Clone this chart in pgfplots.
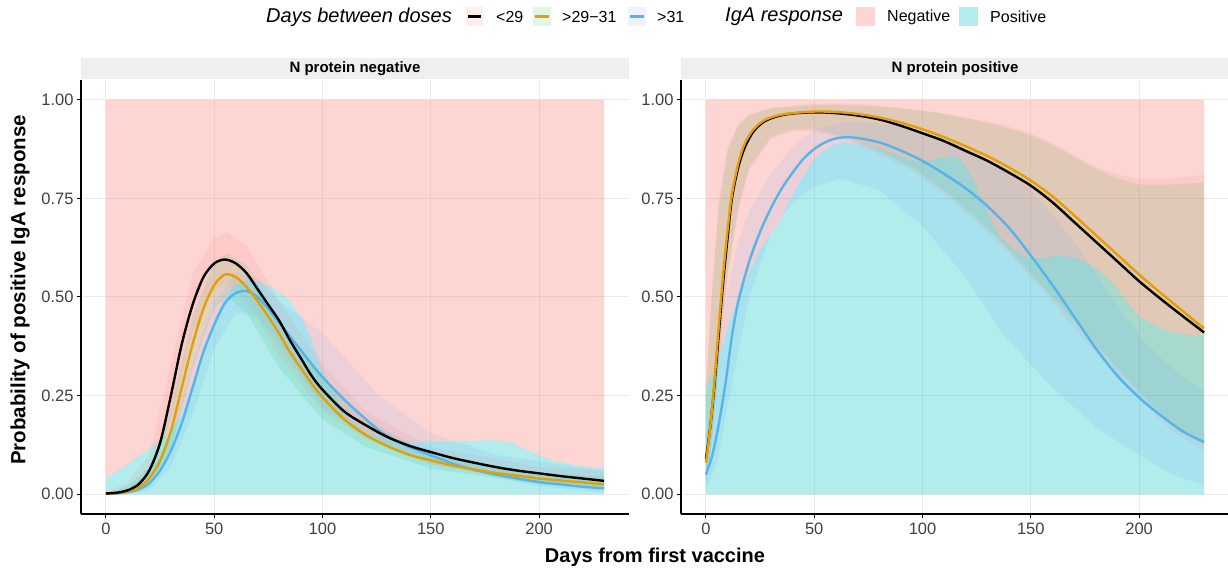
\documentclass[border=0pt]{standalone}
\usepackage{fontspec}
\setmainfont{Liberation Sans}
\usepackage{pgfplots}
\pgfplotsset{compat=1.18}
\definecolor{negc}{HTML}{F8766D}
\definecolor{posc}{HTML}{00BFC4}
\definecolor{rb1}{HTML}{F8766D}
\definecolor{rb2}{HTML}{00BA38}
\definecolor{rb3}{HTML}{619CFF}
\definecolor{ln2}{HTML}{E69F00}
\definecolor{ln3}{HTML}{56B4E9}
\definecolor{gridc}{HTML}{EBEBEB}
\definecolor{stripc}{HTML}{EFEFEF}
\pgfplotsset{
  neg/.style={draw=none, fill=negc, fill opacity=0.3},
  pos/.style={draw=none, fill=posc, fill opacity=0.3},
  rib/.style={draw=none, fill=#1, fill opacity=0.11},
  ln/.style={draw=#1, line width=2.4pt, smooth, no markers},
  panel/.style={
  scale only axis, width=548pt, height=434pt,
  xmin=-11.5, xmax=241.5, ymin=-0.05, ymax=1.05,
  axis x line*=bottom, axis y line*=left,
  axis line style={black, line width=1.5pt},
  xtick={0,50,100,150,200}, xticklabels={0,50,100,150,200},
  ytick={0,0.25,0.5,0.75,1}, yticklabels={0.00,0.25,0.50,0.75,1.00},
  tick align=outside, major tick length=4pt,
  tick style={black, line width=1pt},
  grid=major, major grid style={gridc, line width=1pt},
  ticklabel style={font=\fontsize{16.5}{19}\selectfont, text=black!75},
  xticklabel style={yshift=-1pt},
  clip=false, anchor=south west,
}}
\begin{document}
\begin{tikzpicture}
\useasboundingbox (0,0) rectangle (1228pt,572pt);
% ---------------- left panel
\begin{axis}[panel, at={(81pt,58pt)}]
\addplot[neg] coordinates {(0,0.04)(10,0.075)(20,0.115)(25,0.137)(30,0.16)(35,0.2)(40,0.27)(45,0.36)(50,0.44)(55,0.5)(60,0.53)(65,0.54)(70,0.54)(75,0.53)(80,0.512)(85,0.49)(90,0.45)(95,0.39)(100,0.314)(105,0.26)(111,0.196)(120,0.155)(131,0.137)(145,0.133)(157,0.132)(175,0.137)(185,0.135)(195,0.11)(206,0.086)(218,0.072)(230,0.066)(230,1)(0,1)} -- cycle;
\addplot[pos] coordinates {(0,0)(0,0.04)(10,0.075)(20,0.115)(25,0.137)(30,0.16)(35,0.2)(40,0.27)(45,0.36)(50,0.44)(55,0.5)(60,0.53)(65,0.54)(70,0.54)(75,0.53)(80,0.512)(85,0.49)(90,0.45)(95,0.39)(100,0.314)(105,0.26)(111,0.196)(120,0.155)(131,0.137)(145,0.133)(157,0.132)(175,0.137)(185,0.135)(195,0.11)(206,0.086)(218,0.072)(230,0.066)(230,0)} -- cycle;
% ribbons
\addplot[rib=rb1] coordinates {(0,0.005)(10,0.03)(20,0.1)(30,0.33)(40,0.56)(50,0.65)(56,0.665)(65,0.63)(80,0.49)(100,0.33)(120,0.21)(150,0.12)(200,0.07)(230,0.06)
 (230,0.02)(200,0.03)(150,0.075)(120,0.14)(100,0.21)(80,0.35)(65,0.49)(56,0.53)(50,0.52)(40,0.41)(30,0.19)(20,0.04)(10,0.005)(0,0)} -- cycle;
\addplot[rib=rb2] coordinates {(0,0.003)(10,0.02)(20,0.07)(30,0.22)(40,0.45)(50,0.59)(56,0.61)(65,0.58)(80,0.44)(100,0.29)(120,0.19)(150,0.1)(200,0.055)(230,0.045)
 (230,0.015)(200,0.025)(150,0.065)(120,0.12)(100,0.19)(80,0.32)(65,0.46)(56,0.5)(50,0.47)(40,0.32)(30,0.11)(20,0.02)(10,0.003)(0,0)} -- cycle;
\addplot[rib=rb3] coordinates {(0,0.003)(10,0.015)(20,0.05)(30,0.15)(40,0.33)(50,0.49)(60,0.56)(70,0.55)(80,0.49)(100,0.41)(126,0.25)(150,0.155)(180,0.1)(230,0.06)
 (230,0.005)(200,0.02)(150,0.08)(126,0.13)(100,0.22)(80,0.38)(70,0.45)(60,0.46)(50,0.37)(40,0.2)(30,0.07)(20,0.01)(10,0.002)(0,0)} -- cycle;
% lines
\addplot[ln=ln3] coordinates {(0,0.001)(5,0.002)(10,0.005)(15,0.012)(20,0.028)(25,0.06)(30,0.11)(35,0.18)(40,0.27)(45,0.36)(50,0.43)(55,0.485)(60,0.51)(65,0.515)(70,0.5)(75,0.47)(80,0.435)(85,0.4)(90,0.365)(95,0.33)(100,0.297)(110,0.24)(120,0.19)(126,0.162)(130,0.148)(140,0.12)(150,0.099)(160,0.078)(170,0.062)(180,0.05)(190,0.04)(200,0.031)(210,0.025)(220,0.019)(230,0.015)};
\addplot[ln=ln2] coordinates {(0,0.001)(5,0.003)(10,0.007)(15,0.017)(20,0.04)(25,0.085)(30,0.16)(35,0.27)(40,0.38)(45,0.47)(50,0.53)(55,0.557)(60,0.55)(65,0.525)(70,0.49)(75,0.45)(80,0.407)(85,0.36)(90,0.32)(95,0.28)(100,0.246)(110,0.19)(120,0.15)(130,0.122)(140,0.1)(150,0.086)(160,0.073)(170,0.063)(180,0.054)(190,0.047)(200,0.04)(210,0.035)(220,0.03)(230,0.025)};
\addplot[ln=black] coordinates {(0,0.002)(5,0.004)(10,0.01)(15,0.025)(20,0.06)(25,0.13)(30,0.25)(35,0.38)(40,0.48)(45,0.55)(50,0.585)(55,0.595)(60,0.585)(65,0.56)(70,0.52)(75,0.48)(80,0.44)(85,0.39)(90,0.345)(95,0.3)(100,0.265)(110,0.21)(120,0.175)(130,0.145)(140,0.123)(150,0.107)(160,0.092)(170,0.08)(180,0.069)(190,0.06)(200,0.053)(210,0.046)(220,0.04)(230,0.034)};
\fill[stripc] ([yshift=1pt]rel axis cs:0,1) rectangle ([yshift=22pt]rel axis cs:1,1);
\node[font=\bfseries\fontsize{15}{17}\selectfont] at ([yshift=11.5pt]rel axis cs:0.5,1) {N protein negative};
\end{axis}
% ---------------- right panel
\begin{axis}[panel, at={(681pt,58pt)}]
\addplot[neg] coordinates {(0,0.27)(5,0.33)(10,0.42)(15,0.5)(20,0.56)(25,0.62)(34,0.69)(42,0.78)(50,0.85)(57,0.88)(63,0.892)(70,0.89)(80,0.875)(90,0.855)(100,0.84)(107,0.85)(113,0.858)(117,0.85)(120,0.83)(124,0.79)(128,0.736)(132,0.69)(136,0.651)(142,0.62)(148,0.6)(155,0.598)(163,0.605)(170,0.6)(176,0.585)(182,0.565)(188,0.534)(194,0.49)(200,0.449)(210,0.42)(220,0.405)(230,0.4)(230,1)(0,1)} -- cycle;
\addplot[pos] coordinates {(0,0)(0,0.27)(5,0.33)(10,0.42)(15,0.5)(20,0.56)(25,0.62)(34,0.69)(42,0.78)(50,0.85)(57,0.88)(63,0.892)(70,0.89)(80,0.875)(90,0.855)(100,0.84)(107,0.85)(113,0.858)(117,0.85)(120,0.83)(124,0.79)(128,0.736)(132,0.69)(136,0.651)(142,0.62)(148,0.6)(155,0.598)(163,0.605)(170,0.6)(176,0.585)(182,0.565)(188,0.534)(194,0.49)(200,0.449)(210,0.42)(220,0.405)(230,0.4)(230,0)} -- cycle;
\addplot[rib=rb1] coordinates {(0,0.28)(3,0.55)(6,0.75)(10,0.88)(15,0.94)(20,0.965)(30,0.98)(45,0.988)(60,0.99)(75,0.988)(90,0.98)(105,0.97)(120,0.955)(135,0.94)(150,0.915)(160,0.89)(170,0.86)(180,0.83)(190,0.81)(200,0.8)(215,0.8)(230,0.81)
 (230,0.11)(215,0.16)(200,0.24)(185,0.33)(170,0.42)(155,0.52)(140,0.61)(125,0.69)(110,0.76)(95,0.82)(80,0.86)(65,0.9)(50,0.92)(40,0.92)(30,0.9)(20,0.82)(15,0.72)(10,0.55)(6,0.33)(3,0.14)(0,0.02)} -- cycle;
\addplot[rib=rb2] coordinates {(0,0.26)(3,0.52)(6,0.73)(10,0.87)(15,0.935)(20,0.96)(30,0.978)(45,0.985)(60,0.987)(75,0.985)(90,0.978)(105,0.968)(120,0.953)(135,0.935)(150,0.91)(160,0.885)(170,0.855)(180,0.825)(190,0.8)(200,0.785)(215,0.785)(230,0.79)
 (230,0.13)(215,0.18)(200,0.26)(185,0.35)(170,0.44)(155,0.53)(140,0.62)(125,0.7)(110,0.77)(95,0.83)(80,0.87)(65,0.905)(50,0.925)(40,0.925)(30,0.905)(20,0.83)(15,0.73)(10,0.56)(6,0.34)(3,0.15)(0,0.03)} -- cycle;
\addplot[rib=rb3] coordinates {(0,0.15)(5,0.32)(10,0.52)(15,0.64)(20,0.72)(30,0.81)(40,0.88)(50,0.925)(65,0.945)(80,0.94)(95,0.925)(110,0.9)(125,0.865)(140,0.81)(150,0.77)(160,0.71)(170,0.64)(180,0.56)(190,0.48)(200,0.4)(215,0.32)(230,0.26)
 (230,0.023)(215,0.05)(197,0.11)(180,0.17)(160,0.27)(148,0.34)(136,0.415)(120,0.55)(100,0.68)(80,0.77)(63,0.8)(50,0.78)(40,0.74)(30,0.66)(20,0.5)(15,0.36)(10,0.22)(5,0.08)(0,0.01)} -- cycle;
\addplot[ln=ln3] coordinates {(0,0.05)(3,0.1)(6,0.18)(9,0.28)(12,0.4)(15,0.49)(20,0.59)(25,0.665)(30,0.725)(35,0.775)(40,0.815)(45,0.85)(50,0.875)(55,0.892)(60,0.902)(65,0.905)(70,0.903)(80,0.892)(90,0.871)(100,0.845)(110,0.812)(120,0.775)(130,0.73)(140,0.675)(150,0.605)(160,0.53)(170,0.45)(180,0.37)(190,0.3)(200,0.245)(210,0.2)(220,0.16)(230,0.132)};
\addplot[ln=black] coordinates {(0,0.09)(2,0.17)(4,0.28)(6,0.41)(8,0.54)(10,0.65)(12,0.75)(15,0.83)(18,0.88)(22,0.92)(27,0.945)(33,0.958)(40,0.965)(50,0.968)(60,0.966)(70,0.96)(80,0.95)(90,0.934)(100,0.915)(110,0.895)(120,0.87)(130,0.845)(140,0.815)(150,0.782)(160,0.74)(170,0.69)(180,0.64)(190,0.59)(200,0.54)(210,0.495)(220,0.452)(230,0.41)};
\addplot[ln=ln2] coordinates {(0,0.08)(2,0.17)(4,0.29)(6,0.43)(8,0.56)(10,0.67)(12,0.76)(15,0.84)(18,0.89)(22,0.925)(27,0.948)(33,0.96)(40,0.966)(50,0.97)(60,0.969)(70,0.964)(80,0.955)(90,0.942)(100,0.925)(110,0.905)(120,0.882)(130,0.857)(140,0.828)(150,0.795)(160,0.755)(170,0.707)(180,0.657)(190,0.607)(200,0.557)(210,0.51)(220,0.465)(230,0.42)};
\fill[stripc] ([yshift=1pt]rel axis cs:0,1) rectangle ([yshift=22pt]rel axis cs:1,1);
\node[font=\bfseries\fontsize{15}{17}\selectfont] at ([yshift=11.5pt]rel axis cs:0.5,1) {N protein positive};
\end{axis}
% ---------------- titles
\node[font=\bfseries\fontsize{20}{24}\selectfont] at (655pt,15pt) {Days from first vaccine};
\node[rotate=90, font=\bfseries\fontsize{20.5}{24}\selectfont] at (20pt,282pt) {Probability of positive IgA response};
% ---------------- legend
\node[anchor=west, inner sep=0pt, font=\itshape\fontsize{20}{24}\selectfont] at (266pt,555pt) {Days between doses};
\fill[rb1, opacity=0.12] (466pt,545.5pt) rectangle (483pt,564.5pt);
\draw[black, line width=2.4pt] (468pt,555.3pt) -- (481pt,555.3pt);
\node[anchor=west, inner sep=0pt, font=\fontsize{16}{19}\selectfont] at (496pt,555pt) {<29};
\fill[rb2, opacity=0.12] (533pt,545.5pt) rectangle (551pt,564.5pt);
\draw[ln2, line width=2.4pt] (535pt,555.3pt) -- (549pt,555.3pt);
\node[anchor=west, inner sep=0pt, font=\fontsize{16}{19}\selectfont] at (562pt,555pt) {>29−31};
\fill[rb3, opacity=0.12] (628pt,545.5pt) rectangle (646pt,564.5pt);
\draw[ln3, line width=2.4pt] (630pt,555.3pt) -- (644pt,555.3pt);
\node[anchor=west, inner sep=0pt, font=\fontsize{16}{19}\selectfont] at (657pt,555pt) {>31};
\node[anchor=west, inner sep=0pt, font=\itshape\fontsize{20}{24}\selectfont] at (725pt,555pt) {IgA response};
\fill[negc, opacity=0.3] (856pt,545.5pt) rectangle (875pt,564.5pt);
\node[anchor=west, inner sep=0pt, font=\fontsize{16}{19}\selectfont] at (887pt,555pt) {Negative};
\fill[posc, opacity=0.3] (959pt,545.5pt) rectangle (978pt,564.5pt);
\node[anchor=west, inner sep=0pt, font=\fontsize{16}{19}\selectfont] at (990pt,555pt) {Positive};
\end{tikzpicture}
\end{document}
